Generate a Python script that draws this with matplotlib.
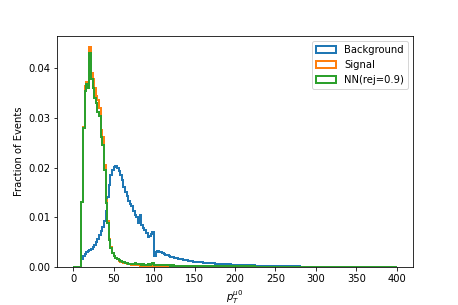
import numpy as np
import matplotlib
matplotlib.use("Agg")
import matplotlib.pyplot as plt

# bin edges: 2 wide up to 150, 5 wide up to 250, 10 wide up to 400
edges = np.concatenate([np.arange(0, 150, 2), np.arange(150, 250, 5), np.arange(250, 410, 10)])

background = [
    0, 0, 0, 0, 0, 0.0017, 0.0022, 0.0027, 0.0030, 0.0033,
    0.0035, 0.0037, 0.0040, 0.0044, 0.0050, 0.0057, 0.0065, 0.0073, 0.0080, 0.0092,
    0.0112, 0.0140, 0.0165, 0.0185, 0.0195, 0.0201, 0.0203, 0.0200, 0.0194, 0.0185,
    0.0175, 0.0162, 0.0152, 0.0142, 0.0133, 0.0127, 0.0122, 0.0113, 0.0105, 0.0100,
    0.0088, 0.0105, 0.0085, 0.0079, 0.0074, 0.0068, 0.0060, 0.0063, 0.0067, 0.0071,
    0.0022, 0.0031, 0.0032, 0.0031, 0.0030, 0.0029, 0.0027, 0.0025, 0.0024, 0.0023,
    0.0021, 0.0020, 0.0019, 0.0019, 0.0018, 0.0017, 0.0016, 0.0016, 0.0015, 0.0014,
    0.0014, 0.0013, 0.0012, 0.0012, 0.0011,
    # 150 - 250
    0.0010, 0.0010, 0.0009, 0.0009, 0.0008, 0.0007, 0.0007, 0.0006, 0.0006, 0.0005,
    0.0005, 0.0005, 0.0004, 0.0004, 0.0004, 0.0003, 0.0003, 0.0003, 0.0002, 0.0002,
    # 250 - 400
    0.0002, 0.00015, 0.00012, 0.0001, 0.0001, 0.00008, 0.00007, 0.00006, 0.00005, 0.00005,
    0.00004, 0.00004, 0.00003, 0.00003, 0.00003,
]

signal = [
    0, 0, 0, 0, 0, 0.0131, 0.0282, 0.0365, 0.0372, 0.0365,
    0.0443, 0.0390, 0.0378, 0.0360, 0.0345, 0.0336, 0.0320, 0.0275, 0.0262, 0.0205,
    0.0135, 0.0092, 0.0057, 0.0040, 0.0029, 0.0023, 0.0019, 0.0016, 0.0013, 0.0011,
    0.0010, 0.0009, 0.0008, 0.0007, 0.0006, 0.0006, 0.0005, 0.0005, 0.0004, 0.0004,
    0.0004, 0.0003, 0.0003, 0.0003, 0.0003, 0.0003, 0.0002, 0.0002, 0.0002, 0.0002,
    0.0002, 0.0002, 0.0002, 0.00015, 0.00015, 0.00015, 0.00015, 0.00015, 0.0001, 0.0001,
    0.0001, 0.0001, 0.0001, 0.0001, 0.0001, 0.0001, 0.0001, 0.0001, 0.0001, 0.0001,
    0.0001, 0.0001, 0.0001, 0.0001, 0.0001,
    # 150 - 250
    0.00008, 0.00008, 0.00007, 0.00006, 0.00006, 0.00005, 0.00005, 0.00004, 0.00004, 0.00004,
    0.00003, 0.00003, 0.00003, 0.00002, 0.00002, 0.00002, 0.00002, 0.00002, 0.00001, 0.00001,
    # 250 - 400
    0.00001, 0.00001, 0.00001, 0.00001, 0.00001, 0.00001, 0.00001, 0, 0, 0,
    0, 0, 0, 0, 0,
]

nn_rej09 = [
    0, 0, 0, 0, 0, 0.0131, 0.0279, 0.0355, 0.0368, 0.0360,
    0.0431, 0.0378, 0.0360, 0.0340, 0.0330, 0.0312, 0.0305, 0.0262, 0.0245, 0.0195,
    0.0128, 0.0088, 0.0054, 0.0038, 0.0028, 0.0023, 0.0019, 0.0016, 0.0014, 0.0012,
    0.0011, 0.0010, 0.0009, 0.0008, 0.0007, 0.0006, 0.0006, 0.0007, 0.0009, 0.0006,
    0.0007, 0.0006, 0.0005, 0.0006, 0.0005, 0.0005, 0.0006, 0.0005, 0.0006, 0.0009,
    0.0004, 0.0005, 0.0004, 0.0004, 0.0005, 0.0004, 0.0004, 0.0004, 0.0004, 0.0004,
    0.0003, 0.0004, 0.0003, 0.0003, 0.0003, 0.0003, 0.0003, 0.0003, 0.0003, 0.0003,
    0.0003, 0.0003, 0.0003, 0.0003, 0.0003,
    # 150 - 250
    0.0003, 0.0003, 0.0002, 0.0002, 0.0002, 0.0002, 0.0002, 0.0002, 0.0002, 0.0002,
    0.00015, 0.00015, 0.00015, 0.00012, 0.00012, 0.0001, 0.0001, 0.0001, 0.0001, 0.0001,
    # 250 - 400
    0.0001, 0.0001, 0.00008, 0.00008, 0.00008, 0.00007, 0.00007, 0.00006, 0.00006, 0.00006,
    0.00005, 0.00005, 0.00005, 0.00005, 0.00005,
]

series = [("Background", background), ("Signal", signal), ("NN(rej=0.9)", nn_rej09)]

fig = plt.figure(figsize=(458 / 72, 305 / 72), dpi=72)
ax = fig.add_subplot(111)
fig.subplots_adjust(left=0.1245, right=0.9017, bottom=0.1246, top=0.882)

for name, vals in series:
    ax.hist(edges[:-1], bins=edges, weights=vals, histtype="step", linewidth=2, label=name)

ax.set_xlabel(r"$p_T^{\mu0}$")
ax.set_ylabel("Fraction of Events")
ax.set_xticks(np.arange(0, 401, 50))
ax.legend(loc="upper right")

fig.savefig("out.png", dpi=72)
